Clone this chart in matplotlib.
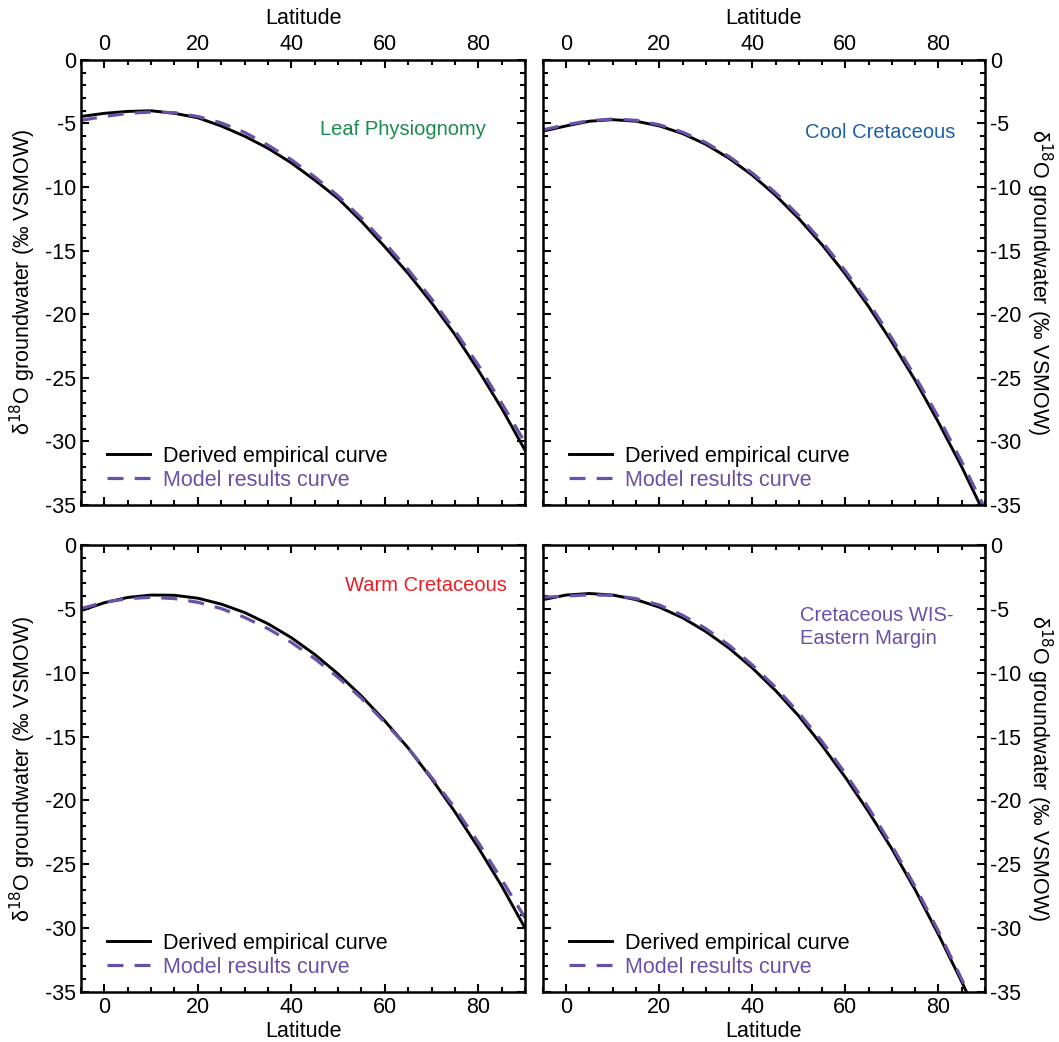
import matplotlib
matplotlib.use("Agg")
import matplotlib.pyplot as plt
from matplotlib.ticker import MultipleLocator

plt.rcParams["font.family"] = ["Liberation Sans", "DejaVu Sans"]
plt.rcParams["axes.unicode_minus"] = False

lat = [-5, 0, 5, 10, 15, 20, 25, 30, 35, 40, 45, 50, 55, 60, 65, 70, 75, 80, 85, 90]

leaf_emp = [-4.45, -4.2, -4.05, -4.0, -4.2, -4.55, -5.2, -6.0, -6.95, -8.1,
            -9.45, -10.9, -12.7, -14.7, -16.8, -19.1, -21.6, -24.4, -27.4, -30.7]
leaf_mod = [-4.75, -4.45, -4.2, -4.1, -4.15, -4.45, -4.95, -5.7, -6.7, -7.85,
            -9.2, -10.7, -12.45, -14.4, -16.5, -18.8, -21.3, -24.0, -27.0, -30.1]

cool_emp = [-5.6, -5.19, -4.82, -4.7, -4.82, -5.19, -5.79, -6.64, -7.74, -9.07,
            -10.65, -12.48, -14.54, -16.85, -19.4, -22.2, -25.2, -28.5, -32.0, -35.8]
cool_mod = [-5.5, -5.1, -4.78, -4.65, -4.75, -5.1, -5.68, -6.5, -7.6, -8.9,
            -10.45, -12.25, -14.3, -16.6, -19.1, -21.9, -24.9, -28.1, -31.6, -35.3]

warm_emp = [-5.14, -4.52, -4.11, -3.92, -3.94, -4.17, -4.63, -5.29, -6.17, -7.26,
            -8.57, -10.1, -11.83, -13.78, -15.9, -18.3, -20.9, -23.7, -26.7, -30.0]
warm_mod = [-4.98, -4.49, -4.2, -4.1, -4.2, -4.49, -4.98, -5.67, -6.55, -7.63,
            -8.9, -10.37, -12.0, -13.9, -15.9, -18.2, -20.6, -23.3, -26.2, -29.2]

wis_emp = [-4.28, -3.92, -3.8, -3.92, -4.28, -4.87, -5.7, -6.78, -8.08, -9.63,
           -11.4, -13.4, -15.7, -18.2, -20.9, -23.8, -27.0, -30.5, -34.2, -38.1]
wis_mod = [-4.1, -4.0, -3.9, -3.95, -4.2, -4.7, -5.5, -6.55, -7.85, -9.4,
           -11.15, -13.15, -15.4, -17.9, -20.6, -23.55, -26.75, -30.25, -34.0, -37.9]

titles = ["Leaf Physiognomy", "Cool Cretaceous", "Warm Cretaceous",
          "Cretaceous WIS-\nEastern Margin"]
title_colors = ["#1a8c4e", "#1f5fa8", "#ec1c24", "#6a50a7"]
purple = "#6a50a7"

fig = plt.figure(figsize=(10.59, 10.42), dpi=100)
positions = [
    [0.0765, 0.5154, 0.4193, 0.4271],
    [0.5127, 0.5154, 0.4174, 0.4271],
    [0.0765, 0.0480, 0.4193, 0.4290],
    [0.5127, 0.0480, 0.4174, 0.4290],
]
curves = [(leaf_emp, leaf_mod), (cool_emp, cool_mod),
          (warm_emp, warm_mod), (wis_emp, wis_mod)]
text_pos = [(0.538, 0.843), (0.593, 0.836), (0.595, 0.91), (0.581, 0.817)]

for i in range(4):
    ax = fig.add_axes(positions[i])
    emp, mod = curves[i]
    ax.plot(lat, emp, color="black", lw=2.1, label="Derived empirical curve")
    ax.plot(lat, mod, color=purple, lw=2.3, dashes=(5, 3.5),
            label="Model results curve")
    ax.set_xlim(-5, 90)
    ax.set_ylim(-35, 0)
    ax.xaxis.set_major_locator(MultipleLocator(20))
    ax.xaxis.set_minor_locator(MultipleLocator(5))
    ax.yaxis.set_major_locator(MultipleLocator(5))
    ax.yaxis.set_minor_locator(MultipleLocator(1))
    for sp in ax.spines.values():
        sp.set_linewidth(1.8)
    ax.tick_params(which="both", direction="in", top=True, bottom=True,
                   left=True, right=True, labelsize=15.5, width=1.5)
    ax.tick_params(which="major", length=6)
    ax.tick_params(which="minor", length=3.5)

    top = i < 2
    left = i % 2 == 0
    ax.tick_params(labeltop=top, labelbottom=not top,
                   labelleft=left, labelright=not left)
    if top:
        ax.xaxis.set_label_position("top")
        ax.set_xlabel("Latitude", fontsize=15.5, labelpad=7)
    else:
        ax.set_xlabel("Latitude", fontsize=15.5, labelpad=2)
    ylab = "\u03b4$^{18}$O groundwater (\u2030 VSMOW)"
    if left:
        ax.set_ylabel(ylab, fontsize=15.5, labelpad=5)
    else:
        ax.yaxis.set_label_position("right")
        ax.set_ylabel(ylab, fontsize=15.5, rotation=270, labelpad=24)

    tx, ty = text_pos[i]
    ax.text(tx, ty, titles[i], transform=ax.transAxes, color=title_colors[i],
            fontsize=14.5, ha="left", va="center", linespacing=1.3)

    leg = ax.legend(loc="lower left", bbox_to_anchor=(0.015, -0.012),
                    frameon=False, fontsize=15.5, handlelength=2.0,
                    handletextpad=0.6, labelspacing=0.15)
    leg.get_texts()[0].set_color("black")
    leg.get_texts()[1].set_color(purple)

fig.savefig("out.png", dpi=100)
